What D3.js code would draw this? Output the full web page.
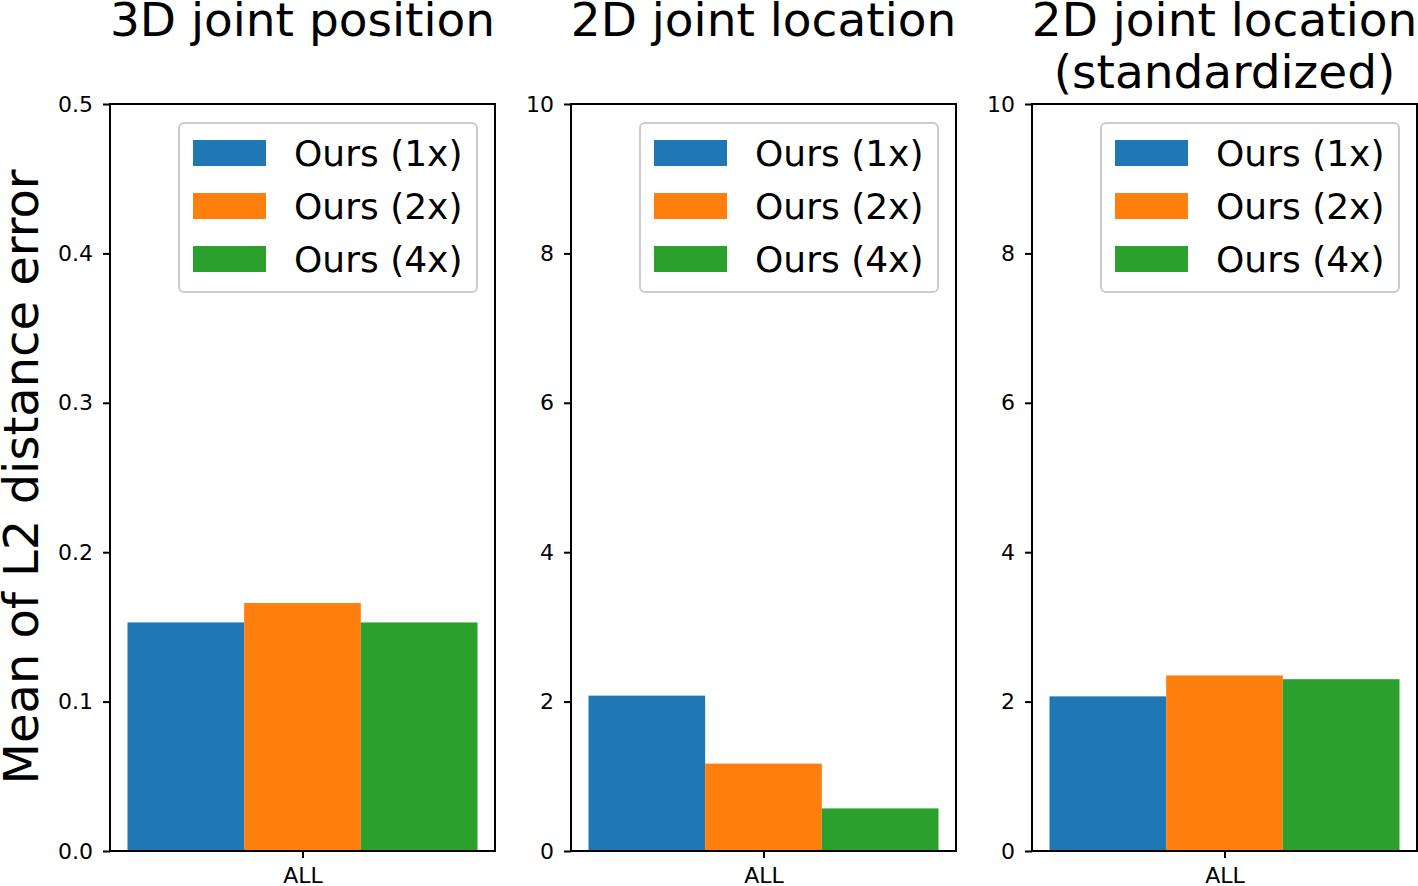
<!DOCTYPE html>
<html>
<head>
<meta charset="utf-8">
<script src="https://cdn.jsdelivr.net/npm/d3@7"></script>
<style>
  body { margin: 0; background: #fff; }
  text { font-family: "DejaVu Sans", sans-serif; fill: #000; }
</style>
</head>
<body>
<svg id="chart" width="1418" height="886"></svg>
<script>
const categories = ["ALL"];
const seriesNames = ["Ours (1x)", "Ours (2x)", "Ours (4x)"];
const colors = ["#1f77b4", "#ff7f0e", "#2ca02c"];

const titles = [["3D joint position"], ["2D joint location"], ["2D joint location", "(standardized)"]];
const pos3d = [0.153, 0.166, 0.153];
const loc2d = [2.08, 1.17, 0.57];
const loc2dStd = [2.07, 2.35, 2.30];
const yMax = [0.5, 10, 10];
const yTicks = [[0, 0.1, 0.2, 0.3, 0.4, 0.5], [0, 2, 4, 6, 8, 10], [0, 2, 4, 6, 8, 10]];
const tickFmt = [d3.format(".1f"), d3.format("d"), d3.format("d")];
const panelValues = [pos3d, loc2d, loc2dStd];

const svg = d3.select("#chart");
const plotTop = 104, plotBottom = 851;
const panelLeft = [110, 571, 1032];
const panelW = 385;

panelValues.forEach((vals, i) => {
  const g = svg.append("g").attr("transform", `translate(${panelLeft[i]},0)`);

  // bar positions like matplotlib: offsets -w,0,w around the category, 5% margin
  const w = 0.8 / 3;
  const span = 3 * w;
  const pad = span * 0.05;
  const x = d3.scaleLinear().domain([-span / 2 - pad, span / 2 + pad]).range([0, panelW]);
  const y = d3.scaleLinear().domain([0, yMax[i]]).range([plotBottom, plotTop]);

  g.selectAll("rect.bar")
    .data(vals)
    .join("rect")
    .attr("class", "bar")
    .attr("x", (d, j) => x((j - 1) * w - w / 2))
    .attr("width", x(w) - x(0))
    .attr("y", d => y(d))
    .attr("height", d => y(0) - y(d))
    .attr("fill", (d, j) => colors[j]);

  // frame
  g.append("rect")
    .attr("x", 0).attr("y", plotTop)
    .attr("width", panelW).attr("height", plotBottom - plotTop)
    .attr("fill", "none").attr("stroke", "#000").attr("stroke-width", 2);

  // y axis
  const yAxis = g.append("g")
    .call(d3.axisLeft(y).tickValues(yTicks[i]).tickFormat(tickFmt[i]).tickSize(7).tickPadding(10));
  yAxis.select(".domain").remove();
  yAxis.selectAll("line").attr("stroke-width", 2);
  yAxis.selectAll("text").style("font-size", "22px").style("font-family", "DejaVu Sans");

  // x axis
  const xc = d3.scalePoint().domain(categories).range([x(0), x(0)]);
  const xAxis = g.append("g")
    .attr("transform", `translate(0,${plotBottom})`)
    .call(d3.axisBottom(xc).tickSize(7).tickPadding(9));
  xAxis.select(".domain").remove();
  xAxis.selectAll("line").attr("stroke-width", 2);
  xAxis.selectAll("text").style("font-size", "22px").style("font-family", "DejaVu Sans");

  // title
  titles[i].forEach((t, k) => {
    g.append("text")
      .attr("x", panelW / 2)
      .attr("y", 36 + k * 52)
      .attr("text-anchor", "middle")
      .style("font-size", "47px")
      .text(t);
  });

  // legend
  const lg = g.append("g").attr("transform", "translate(69,123)");
  lg.append("rect")
    .attr("width", 298).attr("height", 169)
    .attr("rx", 5)
    .attr("fill", "#fff").attr("fill-opacity", 0.8)
    .attr("stroke", "#ccc").attr("stroke-width", 2);
  seriesNames.forEach((s, j) => {
    lg.append("rect")
      .attr("x", 14).attr("y", 17 + j * 53)
      .attr("width", 73).attr("height", 26)
      .attr("fill", colors[j]);
    lg.append("text")
      .attr("x", 115).attr("y", 30 + j * 53)
      .attr("dy", "0.36em")
      .style("font-size", "36px")
      .text(s);
  });
});

svg.append("text")
  .attr("transform", "translate(38,477) rotate(-90)")
  .attr("text-anchor", "middle")
  .style("font-size", "48px")
  .text("Mean of L2 distance error");
</script>
</body>
</html>
